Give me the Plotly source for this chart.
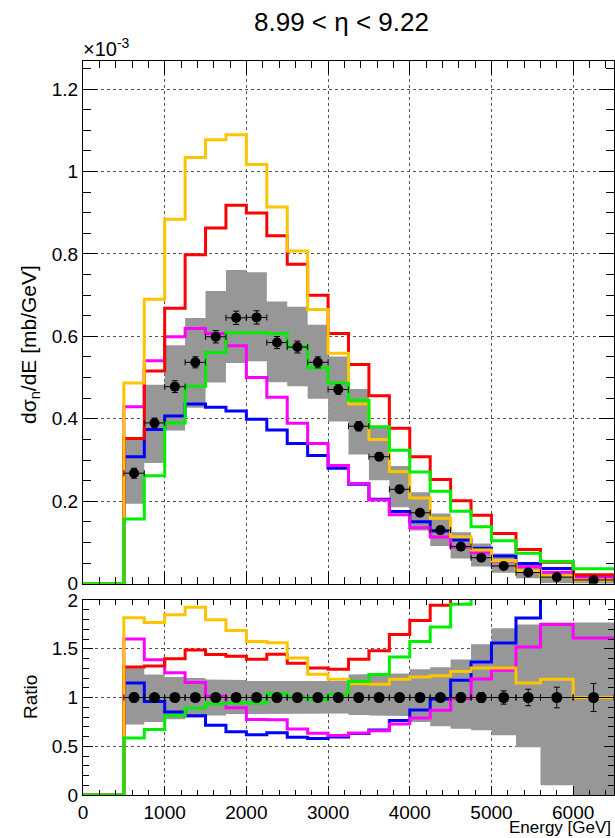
import plotly.graph_objects as go

# ---------------- data ----------------
# bin edges [GeV]; first bin (0-500) is empty for all models
edges = [0, 500, 750, 1000, 1250, 1500, 1750, 2000, 2250, 2500, 2750, 3000,
         3250, 3500, 3750, 4000, 4250, 4500, 4750, 5000, 5300, 5600, 6000, 6500]

# measured dsigma/dE in units of 1e-3 mb/GeV (bins from 500 GeV on)
data_vals = [0.268, 0.390, 0.478, 0.537, 0.599, 0.645, 0.646, 0.585, 0.574, 0.537,
             0.471, 0.382, 0.308, 0.229, 0.172, 0.130, 0.090, 0.063, 0.043, 0.027,
             0.016, 0.009]
stat_rel = [0.045, 0.03, 0.03, 0.025, 0.025, 0.025, 0.025, 0.025, 0.025, 0.025,
            0.025, 0.03, 0.03, 0.035, 0.035, 0.04, 0.045, 0.05, 0.068, 0.085,
            0.106, 0.144]
sys_up = [1.30, 1.237, 1.21, 1.20, 1.185, 1.18, 1.17, 1.17, 1.17, 1.17, 1.17,
          1.237, 1.24, 1.247, 1.29, 1.31, 1.39, 1.545, 1.71, 1.75, 1.77, 1.77]
sys_dn = [0.723, 0.75, 0.778, 0.795, 0.815, 0.83, 0.835, 0.835, 0.835, 0.835, 0.835,
          0.82, 0.815, 0.81, 0.75, 0.705, 0.68, 0.665, 0.613, 0.49, 0.10, 0.0]

# model predictions (units of 1e-3 mb/GeV), bins from 500 GeV on
model_blue = [0.308, 0.374, 0.407, 0.436, 0.428, 0.419, 0.399, 0.373, 0.340, 0.311,
              0.280, 0.241, 0.205, 0.175, 0.150, 0.128, 0.106, 0.086, 0.067, 0.049,
              0.037, 0.020]
model_magenta = [0.429, 0.541, 0.599, 0.619, 0.607, 0.577, 0.500, 0.452, 0.389, 0.340,
                 0.287, 0.243, 0.203, 0.167, 0.136, 0.113, 0.089, 0.075, 0.055, 0.041,
                 0.028, 0.0145]
model_red = [0.352, 0.516, 0.668, 0.798, 0.863, 0.918, 0.899, 0.844, 0.775, 0.700,
             0.607, 0.532, 0.456, 0.377, 0.308, 0.253, 0.201, 0.166, 0.122, 0.083,
             0.052, 0.022]
model_yellow = [0.487, 0.690, 0.884, 1.034, 1.077, 1.089, 1.017, 0.914, 0.807, 0.665,
                0.559, 0.436, 0.350, 0.272, 0.208, 0.159, 0.114, 0.082, 0.056, 0.031,
                0.019, 0.009]
model_green = [0.157, 0.262, 0.390, 0.479, 0.561, 0.609, 0.609, 0.607, 0.575, 0.524,
               0.486, 0.445, 0.381, 0.324, 0.271, 0.224, 0.176, 0.138, 0.104, 0.074,
               0.054, 0.036]

models = [("blue", model_blue, "#0000ff"),
          ("magenta", model_magenta, "#ff00ff"),
          ("red", model_red, "#ff0000"),
          ("yellow", model_yellow, "#ffc400"),
          ("green", model_green, "#00ee00")]

title_text = "8.99 < η < 9.22"

# ---------------- helpers ----------------
W, H = 615, 838
ML, MR, MT, MB = 83, 1, 61, 43
PW, PH = W - ML - MR, H - MT - MB
top_lo_px, bot_hi_px = 583.7, 600.0


def px2paper(x, y):
    return (x - ML) / PW, (H - MB - y) / PH


def step_xy(e, vals):
    xs = list(e[:-1]) + [e[-1]]
    ys = list(vals) + [vals[-1]]
    return xs, ys


def band_poly(e, lo, hi):
    xs, ys = [], []
    for i in range(len(hi)):
        xs += [e[i], e[i + 1]]
        ys += [hi[i], hi[i]]
    for i in reversed(range(len(lo))):
        xs += [e[i + 1], e[i]]
        ys += [lo[i], lo[i]]
    return xs, ys


e_meas = edges[1:]
centers = [(e_meas[i] + e_meas[i + 1]) / 2 for i in range(len(data_vals))]
halfw = [(e_meas[i + 1] - e_meas[i]) / 2 for i in range(len(data_vals))]

fig = go.Figure()

# ---- top panel band ----
bx, by = band_poly(e_meas, [d * s for d, s in zip(data_vals, sys_dn)],
                   [d * s for d, s in zip(data_vals, sys_up)])
fig.add_trace(go.Scatter(x=bx, y=by, fill="toself", fillcolor="#979797",
                         line=dict(width=0), mode="lines", xaxis="x", yaxis="y",
                         hoverinfo="skip", showlegend=False))
# ---- bottom panel band ----
bx2, by2 = band_poly(e_meas, sys_dn, sys_up)
fig.add_trace(go.Scatter(x=bx2, y=by2, fill="toself", fillcolor="#979797",
                         line=dict(width=0), mode="lines", xaxis="x2", yaxis="y2",
                         hoverinfo="skip", showlegend=False))

# ---- models ----
for name, vals, col in models:
    full = [0.0] + list(vals)
    xs, ys = step_xy(edges, full)
    fig.add_trace(go.Scatter(x=xs, y=ys, mode="lines", line_shape="hv",
                             line=dict(color=col, width=3), xaxis="x", yaxis="y",
                             showlegend=False, hoverinfo="skip"))
    ratio = [0.0] + [v / d for v, d in zip(vals, data_vals)]
    xs2, ys2 = step_xy(edges, ratio)
    fig.add_trace(go.Scatter(x=xs2, y=ys2, mode="lines", line_shape="hv",
                             line=dict(color=col, width=3), xaxis="x2", yaxis="y2",
                             showlegend=False, hoverinfo="skip"))

# ---- data points ----
fig.add_trace(go.Scatter(
    x=centers, y=data_vals, mode="markers",
    marker=dict(color="black", size=10, symbol="circle"),
    error_y=dict(type="data", array=[d * s for d, s in zip(data_vals, stat_rel)],
                 color="black", thickness=1, width=3),
    error_x=dict(type="data", array=halfw, color="black", thickness=1, width=3),
    xaxis="x", yaxis="y", showlegend=False, hoverinfo="skip"))
fig.add_trace(go.Scatter(
    x=centers, y=[1.0] * len(data_vals), mode="markers",
    marker=dict(color="black", size=11, symbol="circle"),
    error_y=dict(type="data", array=stat_rel, color="black", thickness=1, width=3),
    error_x=dict(type="data", array=halfw, color="black", thickness=1, width=3),
    xaxis="x2", yaxis="y2", showlegend=False, hoverinfo="skip"))

FONT = "Liberation Sans, Arial, Helvetica, sans-serif"
tickfont = dict(family=FONT, size=19, color="black")

top_dom = [(H - MB - top_lo_px) / PH, 1.0]
bot_dom = [0.0, (H - MB - bot_hi_px) / PH]

common_x = dict(range=[0, 6500], showline=True, linecolor="black", linewidth=1,
                mirror="ticks", ticks="inside", tickcolor="black", tick0=0, dtick=1000,
                showgrid=True, gridcolor="#555", griddash="dot", gridwidth=1,
                zeroline=False, tickfont=tickfont)

yt_vals = [0, 0.2, 0.4, 0.6, 0.8, 1.0, 1.2]
yt_text = ["0", "0.2", "0.4", "0.6", "0.8", "1", "1.2"]
yr_vals = [0, 0.5, 1.0, 1.5, 2.0]
yr_text = ["0", "0.5", "1", "1.5", "2"]

fig.update_layout(
    width=W, height=H, margin=dict(l=ML, r=MR, t=MT, b=MB),
    paper_bgcolor="white", plot_bgcolor="white", showlegend=False,
    font=dict(family=FONT, color="black"),
    xaxis=dict(common_x, anchor="y", domain=[0, 1], showticklabels=False, ticklen=13,
               minor=dict(dtick=200, ticks="inside", ticklen=7, tickcolor="black", showgrid=False)),
    yaxis=dict(domain=top_dom, range=[0, 1.268], anchor="x", showline=True,
               linecolor="black", linewidth=1, mirror="ticks", ticks="inside",
               tickcolor="black", ticklen=15, tickvals=yt_vals, ticktext=yt_text,
               showgrid=True, gridcolor="#555", griddash="dot", zeroline=False,
               tickfont=tickfont,
               minor=dict(dtick=0.05, tick0=0, ticks="inside", ticklen=8, tickcolor="black", showgrid=False)),
    xaxis2=dict(common_x, anchor="y2", domain=[0, 1], matches="x", ticklen=9,
                minor=dict(dtick=200, ticks="inside", ticklen=5, tickcolor="black", showgrid=False)),
    yaxis2=dict(domain=bot_dom, range=[0, 2], anchor="x2", showline=True,
                linecolor="black", linewidth=1, mirror="ticks", ticks="inside",
                tickcolor="black", ticklen=10, tickvals=yr_vals, ticktext=yr_text,
                showgrid=True, gridcolor="#555", griddash="dot", zeroline=False,
                tickfont=tickfont,
                minor=dict(dtick=0.1, tick0=0, ticks="inside", ticklen=6, tickcolor="black", showgrid=False)),
)

ann = []
tx, ty = px2paper(341, 22)
ann.append(dict(text=title_text, x=tx, y=ty, xref="paper", yref="paper", showarrow=False,
                font=dict(family=FONT, size=26, color="black"), xanchor="center", yanchor="middle"))
ax_, ay_ = px2paper(81, 47)
ann.append(dict(text="×10<sup>-3</sup>", x=ax_, y=ay_, xref="paper", yref="paper",
                showarrow=False, font=dict(family=FONT, size=20, color="black"),
                xanchor="left", yanchor="middle"))
yx, yy = px2paper(30, 345)
ann.append(dict(text="dσ<sub>n</sub>/dE [mb/GeV]", x=yx, y=yy, xref="paper", yref="paper",
                showarrow=False, textangle=-90, font=dict(family=FONT, size=21, color="black"),
                xanchor="center", yanchor="middle"))
rx, ry = px2paper(30, 697)
ann.append(dict(text="Ratio", x=rx, y=ry, xref="paper", yref="paper", showarrow=False,
                textangle=-90, font=dict(family=FONT, size=19, color="black"),
                xanchor="center", yanchor="middle"))
ex, ey = px2paper(613, 827)
ann.append(dict(text="Energy [GeV]", x=ex, y=ey, xref="paper", yref="paper", showarrow=False,
                font=dict(family=FONT, size=17, color="black"), xanchor="right", yanchor="middle"))
fig.update_layout(annotations=ann)

fig.write_html("out.html")
